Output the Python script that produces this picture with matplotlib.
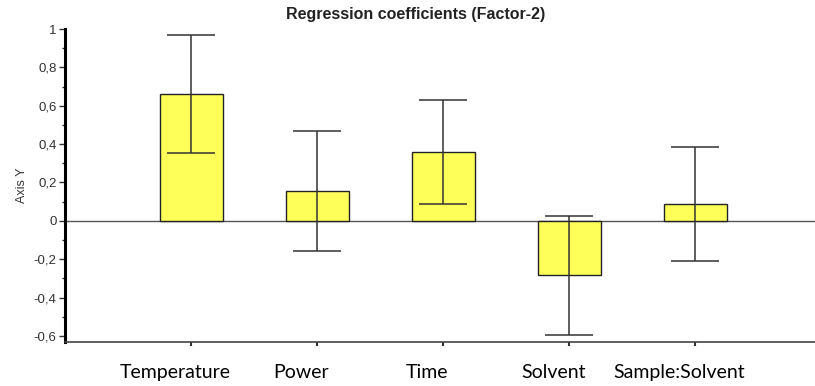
import matplotlib.pyplot as plt
from matplotlib.ticker import MultipleLocator, FuncFormatter
from matplotlib.transforms import ScaledTranslation

factors = ['Temperature', 'Power', 'Time', 'Solvent', 'Sample:Solvent']
coefs = [0.663, 0.153, 0.360, -0.283, 0.087]
conf_int = [0.307, 0.313, 0.270, 0.310, 0.297]

fig = plt.figure(figsize=(8.15, 3.86), dpi=100)
ax = fig.add_axes([65 / 815, 1 - 342 / 386, 1 - 65 / 815, (342 - 29) / 386])

pos = list(range(len(factors)))
ax.bar(pos, coefs, width=0.5, color='#ffff5a', edgecolor='#222222', linewidth=1, zorder=2)
ax.errorbar(pos, coefs, yerr=conf_int, fmt='none', ecolor='#333333',
            elinewidth=1.1, capsize=17.5, capthick=1.1, zorder=3)
ax.axhline(0, color='#555555', linewidth=1, zorder=1)

ax.set_xlim(-1, 4.95)
ax.set_ylim(-0.632, 1.0)

# y axis: comma decimals, minor ticks every 0.1
ax.yaxis.set_major_locator(MultipleLocator(0.2))
ax.yaxis.set_minor_locator(MultipleLocator(0.1))
ax.yaxis.set_major_formatter(FuncFormatter(lambda v, p: ('%g' % round(v, 1)).replace('.', ',')))
ax.tick_params(axis='y', which='major', length=4, width=1, color='#333333',
               labelsize=9.5, labelcolor='#333333', pad=2)
ax.tick_params(axis='y', which='minor', length=2, width=1, color='#333333')
for lab in ax.get_yticklabels():
    lab.set_family('Liberation Sans')

ax.set_xticks(pos)
ax.set_xticklabels(factors, family='Lato', fontsize=14, color='black')
ax.tick_params(axis='x', length=3, width=1.5, color='#333333', pad=13)
shift = ScaledTranslation(-16 / 100, 0, fig.dpi_scale_trans)
for lab in ax.get_xticklabels():
    lab.set_transform(lab.get_transform() + shift)

for side in ['top', 'right']:
    ax.spines[side].set_visible(False)
ax.spines['left'].set_linewidth(2.2)
ax.spines['left'].set_color('black')
ax.spines['bottom'].set_linewidth(1.2)
ax.spines['bottom'].set_color('#444444')

ax.set_ylabel('Axis Y', family='Liberation Sans', fontsize=9, color='#333333', labelpad=4)
fig.text(416 / 815, 1 - 15 / 386, 'Regression coefficients (Factor-2)', ha='center', va='center',
         family='Liberation Sans', fontweight='bold', fontsize=11.5, color='#222222')

fig.savefig('out.png', dpi=100)
